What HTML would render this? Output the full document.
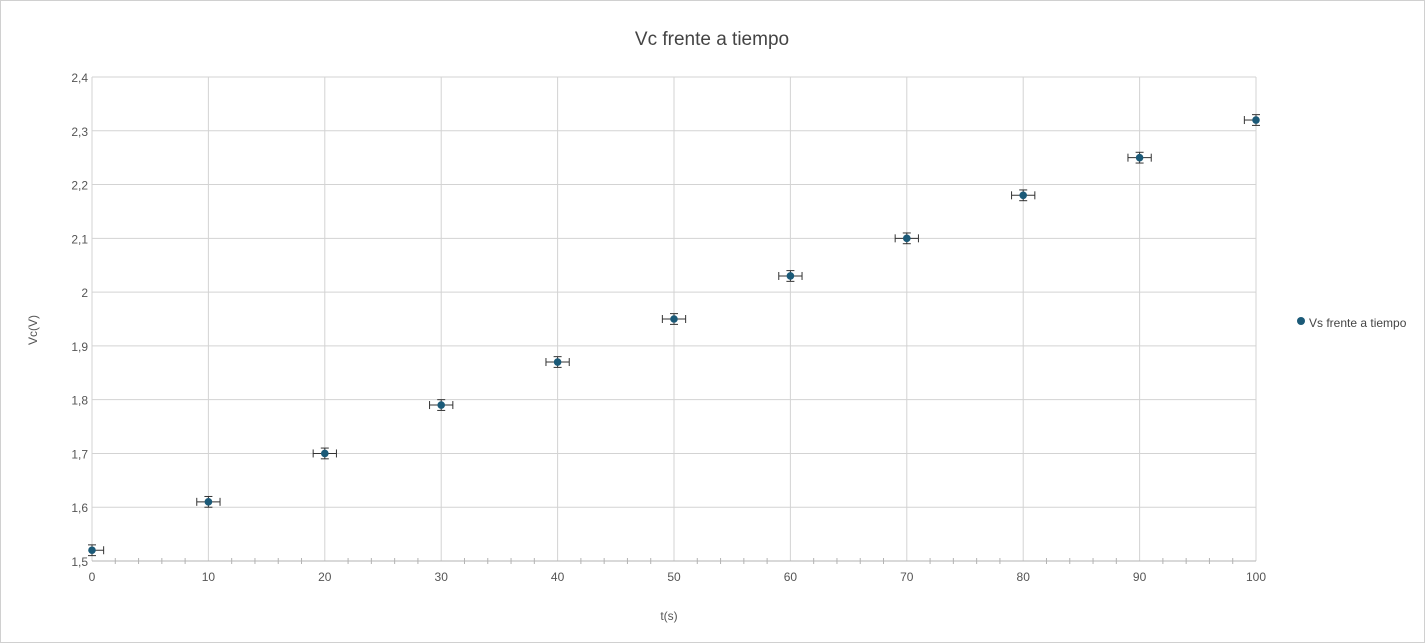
<!DOCTYPE html>
<html><head><meta charset="utf-8"><style>
body{margin:0;background:#fff}
svg{display:block;font-family:"Liberation Sans","DejaVu Sans",sans-serif}
</style></head><body>
<svg id="chart" width="1425" height="643">
<rect x="0.5" y="0.5" width="1424" height="642" fill="#fff" stroke="#d0d0d0"/>
<text x="712" y="45" text-anchor="middle" font-size="19" fill="#444">Vc frente a tiempo</text>
<g id="grid"></g><g id="axes"></g><g id="marks"></g>
<text x="669" y="620" text-anchor="middle" font-size="12" fill="#555">t(s)</text>
<text transform="translate(37,330) rotate(-90)" text-anchor="middle" font-size="12" fill="#555">Vc(V)</text>
<g>
<circle cx="1301" cy="321" r="4" fill="#1b5a78"/>
<text x="1309" y="327" font-size="12" fill="#444">Vs frente a tiempo</text>
</g>
</svg>
<script>
const xVals=[0,10,20,30,40,50,60,70,80,90,100];
const yVals=[1.52,1.61,1.70,1.79,1.87,1.95,2.03,2.10,2.18,2.25,2.32];
const xErr=1.0;
const yErr=0.01;
const xTicks=[0,10,20,30,40,50,60,70,80,90,100];
const yTicks=[1.5,1.6,1.7,1.8,1.9,2,2.1,2.2,2.3,2.4];
const X0=92,X1=1256,Y0=561,Y1=77,xmin=0,xmax=100,ymin=1.5,ymax=2.4;
const sx=v=>X0+(v-xmin)/(xmax-xmin)*(X1-X0);
const sy=v=>Y0-(v-ymin)/(ymax-ymin)*(Y0-Y1);
const NS="http://www.w3.org/2000/svg";
function mk(p,t,a){const e=document.createElementNS(NS,t);for(const k in a)e.setAttribute(k,a[k]);p.appendChild(e);return e;}
const grid=document.getElementById('grid'),axes=document.getElementById('axes'),marks=document.getElementById('marks');
xTicks.forEach(t=>{
 const l=mk(grid,'line',{x1:sx(t),x2:sx(t),y1:Y1,y2:Y0,stroke:'#d3d3d3'});
 
 
 const tx=mk(axes,'text',{x:sx(t),y:Y0+20,'text-anchor':'middle','font-size':12,fill:'#555'});
 tx.textContent=t;
 
 
});
for(let v=0;v<=100;v+=2){if(v%10===0)continue;
 const m=mk(axes,'line',{x1:sx(v),x2:sx(v),y1:Y0-3,y2:Y0+3,stroke:'#b3b3b3'});
 
 
}
yTicks.forEach(t=>{
 const l=mk(grid,'line',{x1:X0,x2:X1,y1:sy(t),y2:sy(t),stroke:'#d3d3d3'});
 
 
 const tx=mk(axes,'text',{x:X0-4,y:sy(t)+5,'text-anchor':'end','font-size':12,fill:'#555'});
 tx.textContent=String(t).replace('.',',');
 
 
});
const ax=mk(axes,'line',{x1:X0,x2:X1,y1:Y0,y2:Y0,stroke:'#b3b3b3'});


xVals.forEach((x,i)=>{
 const g=mk(marks,'g',{});
 
 
 const cx=sx(x),cy=sy(yVals[i]);
 const xl=Math.max(X0,sx(x-xErr)),xr=Math.min(X1,sx(x+xErr));
 const ya=sy(yVals[i]+yErr),yb=sy(yVals[i]-yErr);
 const st={stroke:'#333','stroke-width':1};
 mk(g,'line',Object.assign({x1:xl,x2:xr,y1:cy,y2:cy},st));
 if(sx(x-xErr)>=X0)mk(g,'line',Object.assign({x1:xl,x2:xl,y1:cy-4,y2:cy+4},st));
 if(sx(x+xErr)<=X1)mk(g,'line',Object.assign({x1:xr,x2:xr,y1:cy-4,y2:cy+4},st));
 mk(g,'line',Object.assign({x1:cx,x2:cx,y1:ya,y2:yb},st));
 mk(g,'line',Object.assign({x1:cx-4,x2:cx+4,y1:ya,y2:ya},st));
 mk(g,'line',Object.assign({x1:cx-4,x2:cx+4,y1:yb,y2:yb},st));
 mk(g,'circle',{cx:cx,cy:cy,r:3.8,fill:'#1b5a78'});
});
</script>
</body></html>
